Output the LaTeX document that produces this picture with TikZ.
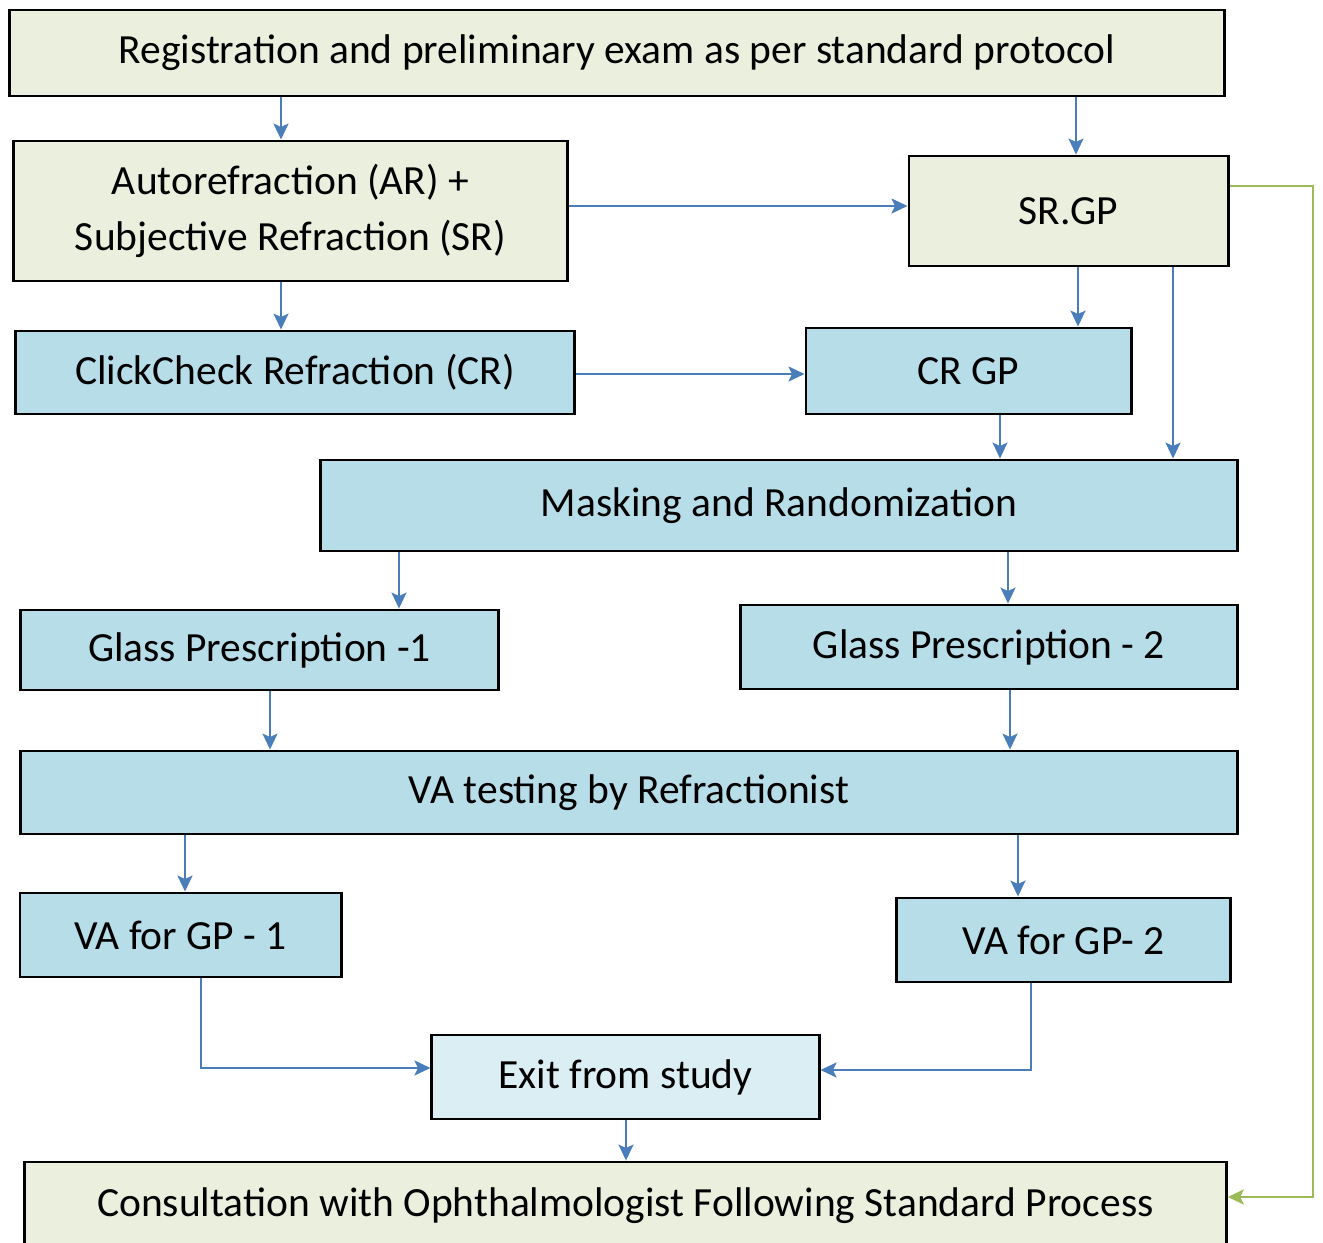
\documentclass[tikz,border=0pt]{standalone}
\usepackage{fontspec}
\setmainfont{Carlito}
\usetikzlibrary{arrows.meta}
\definecolor{olivebox}{HTML}{EBF0DE}
\definecolor{aquabox}{HTML}{B7DDE8}
\definecolor{paleaqua}{HTML}{DAEEF3}
\definecolor{arrowblue}{HTML}{4A7EBB}
\definecolor{loopgreen}{HTML}{9BBB59}

\begin{document}
\begin{tikzpicture}[x=0.01cm, y=-0.01cm,
    >={Stealth[length=1.6mm,width=1.5mm,inset=0.35mm]},
    box/.style={draw=black, line width=0.8pt, rectangle, align=center,
      font=\fontsize{11.8}{16}\selectfont, inner sep=0pt},
    olive/.style={box, fill=olivebox},
    aqua/.style={box, fill=aquabox},
    arr/.style={->, draw=arrowblue, line width=0.6pt},
    back/.style={->, draw=loopgreen, line width=0.6pt}]
  \useasboundingbox (0,0) rectangle (1323,1243);

  % boxes
  \node[olive, minimum width=12.14cm, minimum height=0.86cm] (reg) at (617,53)
    {Registration and preliminary exam as per standard protocol};
  \node[olive, minimum width=5.53cm, minimum height=1.40cm] (ar) at (290.5,211)
    {Autorefraction (AR) +\\Subjective Refraction (SR)};
  \node[olive, minimum width=3.19cm, minimum height=1.10cm] (srgp) at (1068.5,211) {SR.GP};
  \node[aqua, minimum width=5.58cm, minimum height=0.83cm] (cc) at (295,372.5)
    {ClickCheck Refraction (CR)};
  \node[aqua, minimum width=3.25cm, minimum height=0.86cm] (crgp) at (968.5,371) {CR GP};
  \node[aqua, minimum width=9.16cm, minimum height=0.91cm] (mask) at (779,505.5)
    {Masking and Randomization};
  \node[aqua, minimum width=4.77cm, minimum height=0.80cm] (gp1) at (259.5,650)
    {Glass Prescription -1};
  \node[aqua, minimum width=4.96cm, minimum height=0.84cm] (gp2) at (989,647)
    {Glass Prescription - 2};
  \node[aqua, minimum width=12.16cm, minimum height=0.83cm] (vat) at (629,792.5)
    {VA testing by Refractionist};
  \node[aqua, minimum width=3.21cm, minimum height=0.84cm] (va1) at (180.5,935) {VA for GP - 1};
  \node[aqua, minimum width=3.33cm, minimum height=0.84cm] (va2) at (1063.5,940) {VA for GP- 2};
  \node[box, fill=paleaqua, minimum width=3.87cm, minimum height=0.84cm] (exit) at (625.5,1077)
    {Exit from study};
  \node[olive, minimum width=12.01cm, minimum height=0.88cm] (cons) at (625.5,1206)
    {Consultation with Ophthalmologist Following Standard Process};

  % connectors
  \draw[arr] (281,0 |- reg.south) -- (281,0 |- ar.north);
  \draw[arr] (1076,0 |- reg.south) -- (1076,0 |- srgp.north);
  \draw[arr] (ar.east |- 0,206) -- (srgp.west |- 0,206);
  \draw[arr] (281,0 |- ar.south) -- (281,0 |- cc.north);
  \draw[arr] (1078,0 |- srgp.south) -- (1078,0 |- crgp.north);
  \draw[arr] (1173,0 |- srgp.south) -- (1173,0 |- mask.north);
  \draw[arr] (cc.east |- 0,374) -- (crgp.west |- 0,374);
  \draw[arr] (1000,0 |- crgp.south) -- (1000,0 |- mask.north);
  \draw[arr] (399,0 |- mask.south) -- (399,0 |- gp1.north);
  \draw[arr] (1008,0 |- mask.south) -- (1008,0 |- gp2.north);
  \draw[arr] (270,0 |- gp1.south) -- (270,0 |- vat.north);
  \draw[arr] (1010,0 |- gp2.south) -- (1010,0 |- vat.north);
  \draw[arr] (185,0 |- vat.south) -- (185,0 |- va1.north);
  \draw[arr] (1018,0 |- vat.south) -- (1018,0 |- va2.north);
  \draw[arr] (201,0 |- va1.south) -- (201,1068) -- (exit.west |- 0,1068);
  \draw[arr] (1031,0 |- va2.south) -- (1031,1070) -- (exit.east |- 0,1070);
  \draw[arr] (626,0 |- exit.south) -- (626,0 |- cons.north);
  \draw[back] (srgp.east |- 0,186) -- (1313,186) -- (1313,1197) -- (cons.east |- 0,1197);
\end{tikzpicture}
\end{document}
